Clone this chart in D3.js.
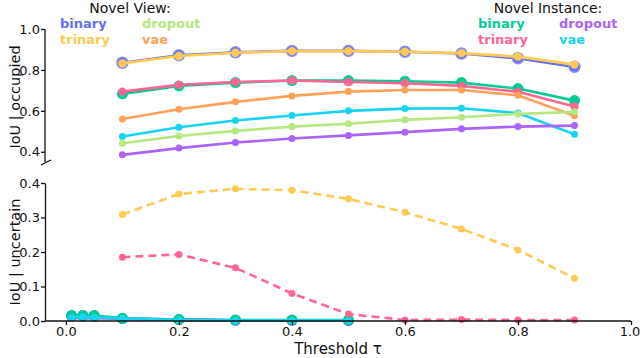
<!DOCTYPE html>
<html><head><meta charset="utf-8">
<script src="https://cdn.jsdelivr.net/npm/d3@7"></script>
<style>body{margin:0;background:#fff}svg{display:block}</style>
</head><body>
<script>
const thresholds = [0.1,0.2,0.3,0.4,0.5,0.6,0.7,0.8,0.9];
const lowThresholds = [0.01,0.03,0.05,0.1,0.2,0.3,0.4,0.5];
// IoU | occupied
const nvBinary  = [0.835,0.872,0.886,0.893,0.893,0.889,0.880,0.857,0.815];
const nvTrinary = [0.832,0.868,0.884,0.892,0.892,0.889,0.882,0.865,0.826];
const nvDropout = [0.442,0.477,0.502,0.523,0.537,0.556,0.569,0.585,0.595];
const nvVae     = [0.560,0.608,0.644,0.673,0.694,0.702,0.702,0.676,0.576];
const niBinary  = [0.683,0.722,0.738,0.748,0.748,0.745,0.738,0.709,0.650];
const niTrinary = [0.694,0.727,0.741,0.748,0.741,0.735,0.722,0.693,0.621];
const niDropout = [0.385,0.418,0.445,0.465,0.480,0.496,0.512,0.523,0.528];
const niVae     = [0.475,0.520,0.553,0.577,0.600,0.611,0.613,0.589,0.486];
// IoU | uncertain
const nvTrinaryU = [0.309,0.368,0.383,0.379,0.354,0.315,0.267,0.206,0.124];
const niTrinaryU = [0.185,0.193,0.154,0.080,0.020,0.003,0.004,0.003,0.003];
const nvBinaryU  = [0.015,0.016,0.015,0.007,0.004,0.002,0.002,0.001];
const niBinaryU  = [0.016,0.016,0.016,0.008,0.004,0.003,0.003,0.003];
const niDropoutU = [0.008,0.008,0.008,0.006,0.004,0.002,0.001,0.001];
const niVaeU     = [0.010,0.012,0.010,0.007,0.003,0.001,0.001,0.001];
const xTicks = [0,0.2,0.4,0.6,0.8,1.0];
const yTopTicks = [0.4,0.6,0.8,1.0];
const yBotTicks = [0,0.1,0.2,0.3,0.4];

const C = {blue:"#636EFA", yellow:"#FECB52", lgreen:"#B6E880", orange:"#FFA15A",
           green:"#00CC96", pink:"#FF6692", purple:"#AB63FA", cyan:"#19D3F3"};

const W=640,H=358;
const svg=d3.select("body").append("svg").attr("width",W).attr("height",H);
const font="'DejaVu Sans', sans-serif";

const x=d3.scaleLinear().domain([-0.037,1.0]).range([45,631]);
const yT=d3.scaleLinear().domain([0.35,1.0]).range([162,29]);
const yB=d3.scaleLinear().domain([0,0.4]).range([321,183]);

function series(g, xs, ys, y, color, r, dash, mstroke){
  const data=xs.map((d,i)=>[d,ys[i]]);
  const line=d3.line().x(d=>x(d[0])).y(d=>y(d[1]));
  g.append("path").datum(data).attr("d",line).attr("fill","none")
    .attr("stroke",color).attr("stroke-width",2.6)
    .attr("stroke-dasharray",dash?"8,5":null).attr("stroke-linecap","butt");
  g.selectAll(null).data(data).enter().append("circle")
    .attr("cx",d=>x(d[0])).attr("cy",d=>y(d[1])).attr("r",r)
    .attr("fill",color).attr("stroke",mstroke||"none").attr("stroke-width",mstroke?1.5:0);
}

const gT=svg.append("g");
series(gT,thresholds,nvBinary,yT,C.blue,5.5,false,"#8a90fb");
series(gT,thresholds,nvTrinary,yT,C.yellow,4.2);
series(gT,thresholds,niBinary,yT,C.green,5.5);
series(gT,thresholds,niTrinary,yT,C.pink,4.2);
series(gT,thresholds,nvVae,yT,C.orange,3.5);
series(gT,thresholds,niVae,yT,C.cyan,3.5);
series(gT,thresholds,nvDropout,yT,C.lgreen,3.5);
series(gT,thresholds,niDropout,yT,C.purple,3.5);

const gB=svg.append("g");
series(gB,lowThresholds,nvBinaryU,yB,C.blue,5.5);
series(gB,lowThresholds,niDropoutU,yB,C.purple,3.5);
series(gB,lowThresholds,niBinaryU,yB,C.green,5.5);
series(gB,lowThresholds,niVaeU,yB,C.cyan,3.5);
series(gB,thresholds,nvTrinaryU,yB,C.yellow,3.5,true);
series(gB,thresholds,niTrinaryU,yB,C.pink,3.5,true);

// axes
const axT=svg.append("g").attr("transform","translate(45,0)")
  .call(d3.axisLeft(yT).tickValues(yTopTicks).tickFormat(d3.format(".1f")).tickSize(4).tickSizeOuter(0));
axT.select(".domain").attr("d","M0,29V162");
const axB=svg.append("g").attr("transform","translate(45,0)")
  .call(d3.axisLeft(yB).tickValues(yBotTicks).tickFormat(d3.format(".1f")).tickSize(4).tickSizeOuter(0));
const axX=svg.append("g").attr("transform","translate(0,321)")
  .call(d3.axisBottom(x).tickValues(xTicks).tickFormat(d3.format(".1f")).tickSize(4).tickSizeOuter(0));
axX.select(".domain").attr("d","M45,0H631");
[axT,axB,axX].forEach(a=>{
  a.selectAll("text").attr("font-family",font).attr("font-size",13).attr("fill","#111");
  a.selectAll("line,path").attr("stroke","#111").attr("stroke-width",1.3);
});
axT.selectAll("text").attr("x",-5);
axB.selectAll("text").attr("x",-5);
axX.selectAll("text").attr("y",6);
axX.selectAll(".tick text").filter(d=>d===1).attr("dx",-1.5);
// break mark
svg.append("line").attr("x1",41).attr("y1",165).attr("x2",51).attr("y2",160)
  .attr("stroke","#111").attr("stroke-width",1.3);

// labels
svg.append("text").attr("transform","translate(20,97) rotate(-90)").attr("text-anchor","middle")
  .attr("font-family",font).attr("font-size",14.5).attr("fill","#111").text("IoU | occupied");
svg.append("text").attr("transform","translate(20,252) rotate(-90)").attr("text-anchor","middle")
  .attr("font-family",font).attr("font-size",14.5).attr("fill","#111").text("IoU | uncertain");
svg.append("text").attr("x",338).attr("y",354).attr("text-anchor","middle")
  .attr("font-family",font).attr("font-size",15).attr("fill","#111").text("Threshold τ");

// legends
const legends=[
  {title:"Novel View:",tx:130,items:[["binary",C.blue,60,28],["dropout",C.lgreen,142,28],["trinary",C.yellow,60,44],["vae",C.orange,142,44]]},
  {title:"Novel Instance:",tx:548,items:[["binary",C.green,478,28],["dropout",C.purple,559,28],["trinary",C.pink,478,44],["vae",C.cyan,559,44]]}
];
legends.forEach(L=>{
  svg.append("text").attr("x",L.tx).attr("y",12.5).attr("text-anchor","middle")
    .attr("font-family",font).attr("font-size",14).attr("fill","#111").text(L.title);
  L.items.forEach(([t,c,lx,ly])=>{
    svg.append("text").attr("x",lx).attr("y",ly).attr("font-family",font)
      .attr("font-size",13).attr("font-weight","bold").attr("fill",c).text(t);
  });
});
</script>
</body></html>
